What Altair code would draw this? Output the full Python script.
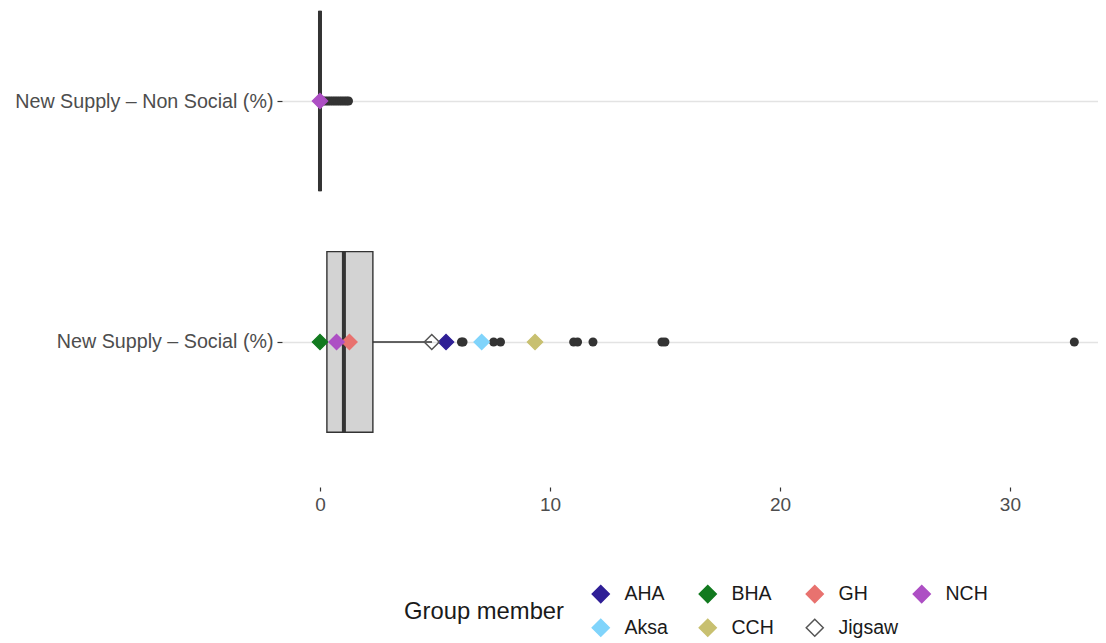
import altair as alt
import pandas as pd

# ---- data ----
row_labels = ["New Supply – Social (%)", "New Supply – Non Social (%)"]
row_pos = [1, 2]
box_q1 = [0.30, 0.0]
box_median = [1.04, 0.0]
box_q3 = [2.30, 0.0]
whisker_low = [0.0, 0.0]
whisker_high = [4.87, 0.0]

social_outliers = [6.15, 6.22, 7.55, 7.85, 11.03, 11.20, 11.87, 14.87, 15.00, 32.80]
nonsocial_outliers = [0.08, 0.15, 0.25, 0.35, 0.45, 0.55, 0.65, 0.75, 0.85, 0.95, 1.05, 1.15, 1.24]

members = ["AHA", "BHA", "GH", "NCH", "Aksa", "CCH", "Jigsaw"]
member_social = [5.48, 0.0, 1.28, 0.72, 7.03, 9.35, 4.86]
member_fill = ["#2f1f96", "#127a1f", "#e8726f", "#ad4fc4", "#80d4fb", "#c8c070", "rgba(255,255,255,0)"]
member_stroke = ["#2f1f96", "#127a1f", "#e8726f", "#ad4fc4", "#80d4fb", "#c8c070", "#555555"]
nonsocial_member = "NCH"
nonsocial_member_value = 0.0

x_ticks = [0, 10, 20, 30]

# ---- tables ----
half = 0.375
box_df = pd.DataFrame({
    "row": row_labels, "pos": row_pos, "q1": box_q1, "med": box_median,
    "q3": box_q3, "wlo": whisker_low, "whi": whisker_high,
})
box_df["lo"] = box_df["pos"] - half
box_df["hi"] = box_df["pos"] + half

out_df = pd.DataFrame({
    "value": social_outliers + nonsocial_outliers,
    "pos": [1] * len(social_outliers) + [2] * len(nonsocial_outliers),
})

mem_df = pd.DataFrame({
    "member": members + [nonsocial_member],
    "value": member_social + [nonsocial_member_value],
    "pos": [1] * len(members) + [2],
})

label_expr = "datum.value == 1 ? '%s' : '%s'" % (row_labels[0], row_labels[1])

x_scale = alt.Scale(domain=[-1.652, 33.83], nice=False, zero=False)
y_scale = alt.Scale(domain=[0.398, 2.386], nice=False, zero=False)

x_axis = alt.Axis(values=x_ticks, grid=False, domain=False, ticks=True, tickSize=4,
                  tickColor="#333333", tickWidth=1.2, labelFontSize=19,
                  labelColor="#4d4d4d", labelPadding=4, title=None,
                  labelFont="Liberation Sans")
y_axis = alt.Axis(values=row_pos, labelExpr=label_expr, grid=True, gridColor="#e3e3e3",
                  gridWidth=1.6, domain=False, ticks=True, tickSize=5, tickColor="#333333",
                  tickWidth=1.2, labelFontSize=19.7, labelColor="#4d4d4d", labelPadding=4,
                  labelLimit=500, title=None, labelFont="Liberation Sans")


def X(field):
    return alt.X(field, scale=x_scale, axis=x_axis, title=None)


def Y(field):
    return alt.Y(field, scale=y_scale, axis=y_axis, title=None)


base_box = alt.Chart(box_df)

boxes = base_box.mark_rect(fill="#d3d3d3", stroke="#333333", strokeWidth=1.4).encode(
    x=X("q1:Q"), x2="q3:Q", y=Y("lo:Q"), y2="hi:Q",
)
whisk_hi = base_box.mark_rule(color="#333333", strokeWidth=1.4).encode(
    x=X("q3:Q"), x2="whi:Q", y=Y("pos:Q"),
)
whisk_lo = base_box.mark_rule(color="#333333", strokeWidth=1.4).encode(
    x=X("wlo:Q"), x2="q1:Q", y=Y("pos:Q"),
)
medians = base_box.mark_rule(color="#333333", strokeWidth=4).encode(
    x=X("med:Q"), y=Y("lo:Q"), y2="hi:Q",
)

outliers = alt.Chart(out_df).mark_circle(size=81, color="#333333", opacity=1).encode(
    x=X("value:Q"), y=Y("pos:Q"),
)

legend = alt.Legend(
    title="Group member", orient="none", legendX=122, legendY=576,
    direction="horizontal", columns=4, gridAlign="all", columnPadding=11, rowPadding=10,
    symbolType="diamond", symbolSize=290, symbolStrokeWidth=1.5,
    labelFontSize=19.5, labelColor="#1a1a1a", labelFont="Liberation Sans", labelOffset=14,
    titleFontSize=23.8, titleColor="#1a1a1a", titleFont="Liberation Sans", titleFontWeight="normal",
    titleOrient="left", titleAnchor="middle", titleBaseline="middle", titlePadding=26,
)

diamonds = alt.Chart(mem_df).mark_point(shape="diamond", size=225, filled=True,
                                         strokeWidth=1.5, opacity=1).encode(
    x=X("value:Q"), y=Y("pos:Q"),
    fill=alt.Fill("member:N", scale=alt.Scale(domain=members, range=member_fill), legend=legend),
    stroke=alt.Stroke("member:N", scale=alt.Scale(domain=members, range=member_stroke), legend=legend),
)

chart = alt.layer(boxes, whisk_hi, whisk_lo, medians, outliers, diamonds).properties(
    width=816, height=479,
    autosize=alt.AutoSizeParams(type="none"),
    padding={"left": 274, "top": 0, "right": 0, "bottom": 154},
).configure_view(stroke=None)

chart.save("out.html", embed_options={"renderer": "svg", "actions": False})
